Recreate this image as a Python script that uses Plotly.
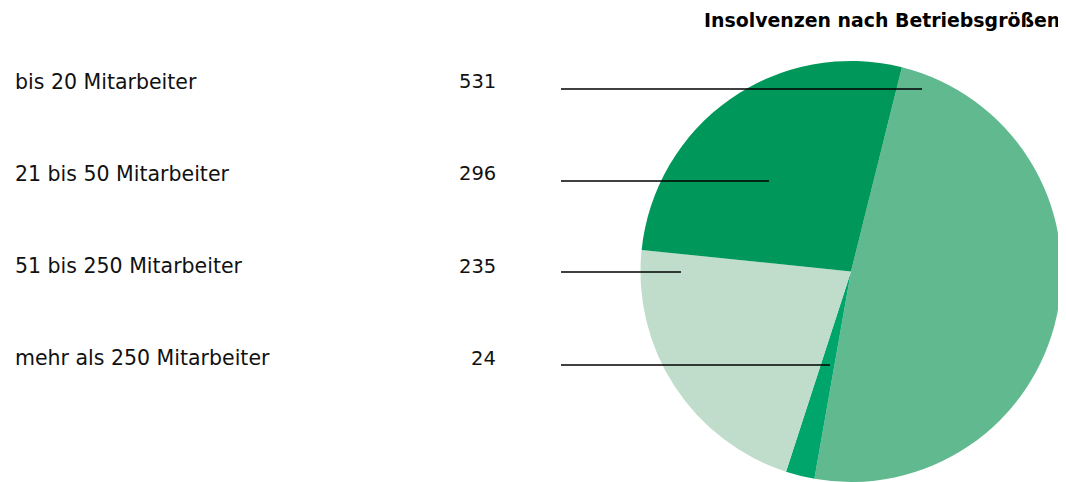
import plotly.graph_objects as go

# the page body adds an 8px margin, so the figure is drawn 8px smaller and
# pixel positions are shifted by that offset
OFF = 8
W, H = 1066 - OFF, 482 - OFF

categories = ["bis 20 Mitarbeiter", "21 bis 50 Mitarbeiter",
              "51 bis 250 Mitarbeiter", "mehr als 250 Mitarbeiter"]
values = [531, 296, 235, 24]
colors = ["#61b98f", "#00985a", "#bfddca", "#00a56b"]
# order of slices going clockwise from the start angle
pie_order = [0, 3, 2, 1]
title_text = "Insolvenzen nach Betriebsgrößen"

FONT = "DejaVu Sans"


def px(x):
    return (x - OFF) / W


def py(y):
    return 1 - (y - OFF) / H


fig = go.Figure()
fig.add_trace(go.Pie(
    labels=[categories[i] for i in pie_order],
    values=[values[i] for i in pie_order],
    marker=dict(colors=[colors[i] for i in pie_order], line=dict(width=0)),
    sort=False,
    direction="clockwise",
    rotation=14,
    textinfo="none",
    hoverinfo="label+value",
    showlegend=False,
    domain=dict(x=[px(640), px(1062)], y=[0, py(61)]),
))

row_y = [82, 174, 266, 358]
line_y = [89, 181, 272, 365]
line_end = [922, 769, 681, 830]

annotations = []
shapes = []
for cat, val, ry, ly, le in zip(categories, values, row_y, line_y, line_end):
    annotations.append(dict(text=cat, x=px(15), y=py(ry), xref="paper", yref="paper",
                            xanchor="left", yanchor="middle", showarrow=False,
                            borderpad=0, borderwidth=0,
                            font=dict(family=FONT, size=20.5, color="#111111")))
    annotations.append(dict(text=str(val), x=px(496), y=py(ry), xref="paper", yref="paper",
                            xanchor="right", yanchor="middle", showarrow=False,
                            borderpad=0, borderwidth=0,
                            font=dict(family=FONT, size=19.5, color="#111111")))
    shapes.append(dict(type="line", xref="paper", yref="paper",
                       x0=px(561), x1=px(le), y0=py(ly), y1=py(ly),
                       line=dict(color="#000000", width=1.3), layer="above"))

annotations.append(dict(text="<b>" + title_text + "</b>", x=px(1060), y=py(20),
                        xref="paper", yref="paper", xanchor="right", yanchor="middle",
                        showarrow=False, borderpad=0, borderwidth=0,
                        font=dict(family=FONT, size=18.9, color="#000000")))

fig.update_layout(
    width=W, height=H,
    margin=dict(l=0, r=0, t=0, b=0),
    paper_bgcolor="white", plot_bgcolor="white",
    annotations=annotations, shapes=shapes,
)

fig.write_html("out.html")
